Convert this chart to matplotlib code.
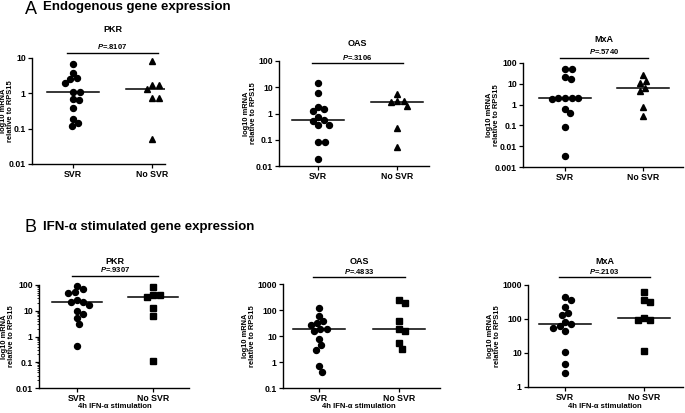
import numpy as np
import matplotlib.pyplot as plt
import matplotlib.transforms as mtransforms
from matplotlib.ticker import FixedLocator, FuncFormatter, LogLocator, NullLocator

plt.rcParams['font.family'] = ['Liberation Sans', 'DejaVu Sans']
plt.rcParams['mathtext.fontset'] = 'custom'
plt.rcParams['mathtext.it'] = 'Liberation Sans:italic:bold'
plt.rcParams['mathtext.rm'] = 'Liberation Sans'

groups = ['SVR', 'No SVR']
genes = ['PKR', 'OAS', 'MxA']

# A - endogenous expression (log10 mRNA relative to RPS15)
pkr_endo_svr = [6.8, 3.8, 2.6, 2.7, 1.9, 1.07, 1.1, 0.71, 0.63, 0.38, 0.19, 0.12, 0.145]
pkr_endo_nosvr = [8.0, 1.76, 1.76, 1.3, 0.74, 0.74, 0.052]
oas_endo_svr = [15, 6.0, 1.8, 1.55, 1.3, 0.72, 0.57, 0.52, 0.38, 0.38, 0.083, 0.083, 0.018]
oas_endo_nosvr = [5.4, 3.0, 3.0, 2.7, 1.86, 0.28, 0.054]
mxa_endo_svr = [50, 50, 16.5, 21, 2.1, 2.1, 2.1, 2.1, 1.8, 0.63, 0.38, 0.085, 0.0032]
mxa_endo_nosvr = [27, 14.4, 10.7, 6.6, 4.5, 0.8, 0.27]
p_endo = ['.8107', '.3106', '.5740']

# B - after 4h IFN-alpha stimulation
pkr_ifn_svr = [92, 68, 53, 48, 26, 21, 22, 16, 10, 7.4, 5.4, 3.1, 0.42]
pkr_ifn_nosvr = [81, 40, 35, 42, 12.3, 6.2, 0.11]
oas_ifn_svr = [117, 59, 38, 32, 27, 19, 19, 15, 7.9, 4.5, 3.0, 0.69, 0.42]
oas_ifn_nosvr = [240, 178, 38, 18, 15.6, 5.3, 3.2]
mxa_ifn_svr = [450, 360, 220, 150, 132, 83, 73, 63, 56, 43, 11, 4.8, 2.5]
mxa_ifn_nosvr = [630, 360, 310, 110, 95, 93, 11.5]
p_ifn = ['.9307', '.4833', '.2103']

W, H = 685, 413

# pixel layout: left, right, top, bottom, svr x, no-svr x, p-line y, title y, ylabel x
boxes = [
    (32, 165, 58, 164, 73, 152, 53, 30, 7),
    (279, 429, 61, 166, 318, 397, 63, 43, 250),
    (523, 683, 63, 167, 565, 643, 58, 39, 493),
    (39, 189, 285, 388, 77, 153, 276, 262, 8),
    (283, 440, 284, 388, 319, 399, 277, 262, 249),
    (528, 683, 285, 387, 565, 644, 277, 262, 494),
]
ylims = [(0.01, 10), (0.01, 100), (0.001, 100), (0.01, 100), (0.1, 1000), (1, 1000)]

panels = [
    (pkr_endo_svr, pkr_endo_nosvr, p_endo[0], '^'),
    (oas_endo_svr, oas_endo_nosvr, p_endo[1], '^'),
    (mxa_endo_svr, mxa_endo_nosvr, p_endo[2], '^'),
    (pkr_ifn_svr, pkr_ifn_nosvr, p_ifn[0], 's'),
    (oas_ifn_svr, oas_ifn_nosvr, p_ifn[1], 's'),
    (mxa_ifn_svr, mxa_ifn_nosvr, p_ifn[2], 's'),
]


def swarm(ax, xc, vals, d=6.6):
    # simple beeswarm in pixel space, like the prism scatter layout
    vals = np.asarray(vals, float)
    ys = ax.transData.transform(np.column_stack([np.full(len(vals), xc), vals]))[:, 1]
    offs = np.zeros(len(vals))
    placed = []
    for i in np.argsort(-vals, kind='stable'):
        cands = [0.0]
        for px, py in placed:
            dy = ys[i] - py
            if abs(dy) < d:
                dx = np.sqrt(d * d - dy * dy)
                cands += [px + dx, px - dx]
        cands.sort(key=abs)
        for c in cands:
            if all((c - px) ** 2 + (ys[i] - py) ** 2 >= d * d - 1e-6 for px, py in placed):
                offs[i] = c
                break
        placed.append((offs[i], ys[i]))
    unit = ax.transData.transform((1, 1))[0] - ax.transData.transform((0, 1))[0]
    return xc + offs / unit


fig = plt.figure(figsize=(W / 100, H / 100), dpi=100)

fig.text(25 / W, 1 - 9 / H, 'A', fontsize=13, va='center', ha='left')
fig.text(43 / W, 1 - 7 / H, 'Endogenous gene expression', fontsize=9.5,
         weight='bold', va='center', ha='left')
fig.text(25 / W, 1 - 228 / H, 'B', fontsize=13, va='center', ha='left')
fig.text(43 / W, 1 - 227 / H, 'IFN-α stimulated gene expression', fontsize=9.5,
         weight='bold', va='center', ha='left')

for k, ((svr, nosvr, p, mk), box, yl) in enumerate(zip(panels, boxes, ylims)):
    left, right, top, bottom, xs, xn, py, ty, lx = box
    ax = fig.add_axes([left / W, 1 - bottom / H, (right - left) / W, (bottom - top) / H])
    step = xn - xs
    ax.set_xlim(1 + (left - xs) / step, 1 + (right - xs) / step)
    ax.set_yscale('log')
    ax.set_ylim(*yl)

    decades = 10.0 ** np.arange(np.log10(yl[0]), np.log10(yl[1]) + 0.5)
    ax.yaxis.set_major_locator(FixedLocator(decades))
    ax.yaxis.set_major_formatter(FuncFormatter(lambda v, pos: f'{v:g}'))
    if k == 3:
        ax.yaxis.set_minor_locator(LogLocator(subs=np.arange(2, 10)))
    else:
        ax.yaxis.set_minor_locator(NullLocator())

    ax.set_xticks([1, 2])
    ax.set_xticklabels(groups)
    for s in ['top', 'right']:
        ax.spines[s].set_visible(False)
    for s in ['left', 'bottom']:
        ax.spines[s].set_linewidth(1.0)
    ax.tick_params(axis='both', which='major', labelsize=6.3, length=3, width=0.9, pad=1.5)
    ax.tick_params(axis='y', which='minor', length=1.5, width=0.6)
    for lab in ax.get_xticklabels() + ax.get_yticklabels():
        lab.set_fontweight('bold')
    ax.text((lx - left) / (right - left), 0.5, 'log10 mRNA\nrelative to RPS15',
            transform=ax.transAxes, rotation=90, ha='center', va='center',
            fontsize=5.4, weight='bold', linespacing=1.0)

    for xc, vals, m in [(1, svr, 'o'), (2, nosvr, mk)]:
        xx = swarm(ax, xc, vals)
        ax.plot(xx, vals, ls='none', marker=m, ms=4.3, color='black', clip_on=False)
        med = np.median(vals)
        ax.plot([xc - 0.33, xc + 0.33], [med, med], color='black', lw=1.1)

    trans = mtransforms.blended_transform_factory(ax.transData, ax.transAxes)
    yfrac = (bottom - py) / (bottom - top)
    ax.plot([0.93, 2.07], [yfrac, yfrac], color='black', lw=1.0, transform=trans, clip_on=False)
    ax.text(1.5, yfrac + 1.5 / (bottom - top), '$\\it{P}$=' + p, transform=trans,
            ha='center', va='bottom', fontsize=5.5, weight='bold')
    tfrac = (bottom - ty) / (bottom - top)
    ax.text(1.5, tfrac, genes[k % 3], transform=trans, ha='center', va='center',
            fontsize=6.5, weight='bold')
    if k >= 3:
        ax.text(1.5, (bottom - 407) / (bottom - top), '4h IFN-α stimulation', transform=trans,
                ha='center', va='center', fontsize=5.5, weight='bold')

fig.savefig('out.png', dpi=100)
